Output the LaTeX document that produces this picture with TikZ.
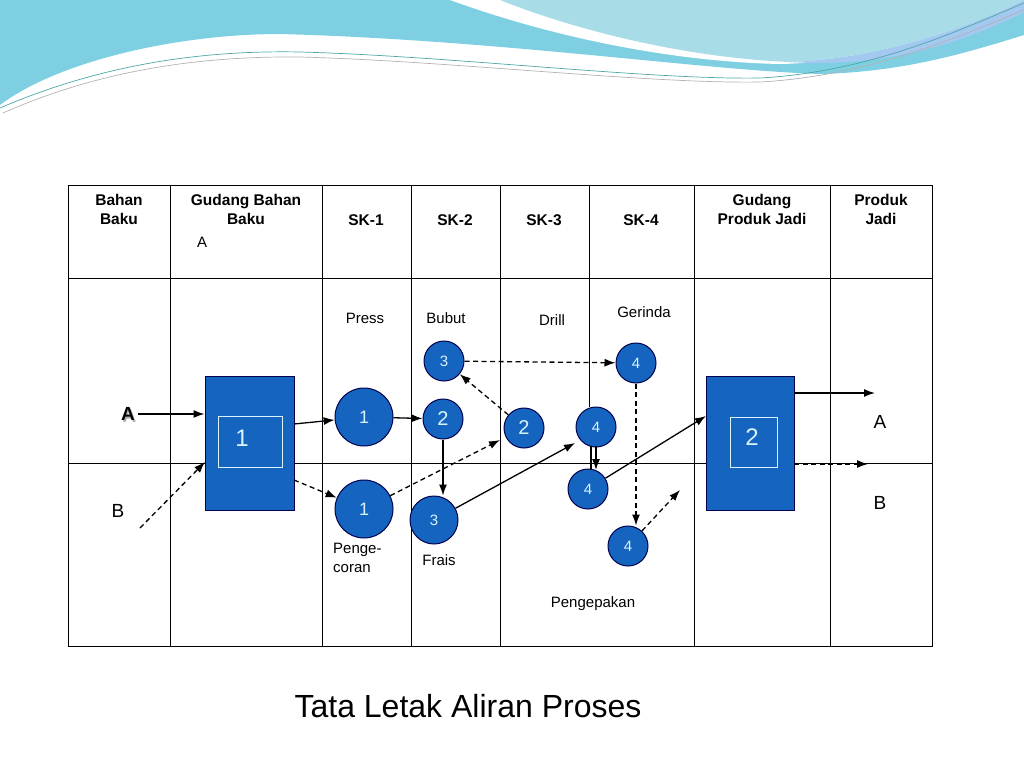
\documentclass[tikz,border=0pt]{standalone}
\usepackage{fontspec}
\setmainfont{Liberation Sans}
\usetikzlibrary{arrows.meta}
\definecolor{cb}{HTML}{1565C0}
\definecolor{wave1}{HTML}{7FCFE2}
\definecolor{wave2}{HTML}{A8DDE8}
\begin{document}
\begin{tikzpicture}[x=1pt,y=-1pt,
 circ/.style={circle,fill=cb,draw=black!70!blue,line width=1pt,text=white!85!cyan,inner sep=0pt,font=\fontsize{15}{15}\selectfont},
 box/.style={fill=cb,draw=black!70!blue,line width=1pt,inner sep=0pt},
 hd/.style={font=\bfseries\fontsize{15.5}{19}\selectfont,align=center,anchor=north},
 lb/.style={font=\fontsize{15}{19}\selectfont},
 ar/.style={-{Latex[length=11pt,width=8pt]},line width=1.3pt},
 da/.style={ar,dash pattern=on 5pt off 3.5pt}]
\useasboundingbox (0,0) rectangle (1024,768);
% background waves
\fill[wave1] (0,0) -- (1024,0) -- (1024,35) .. controls (960,55) and (900,72) .. (820,74) .. controls (700,70) and (500,40) .. (280,34) .. controls (180,34) and (60,60) .. (0,105) -- cycle;
\fill[white] (450,0) .. controls (560,40) and (680,62) .. (780,64) .. controls (880,62) and (980,25) .. (1024,0) -- cycle;
\fill[wave2] (500,0) .. controls (580,32) and (690,58) .. (790,62) .. controls (890,58) and (980,22) .. (1024,0) -- cycle;
\fill[wave1!80!blue!60] (790,62) .. controls (890,58) and (980,22) .. (1024,0) -- (1024,12) .. controls (960,45) and (880,68) .. (790,62) -- cycle;
\draw[teal!70,line width=0.7pt] (0,108) .. controls (100,65) and (200,50) .. (300,52) .. controls (450,56) and (650,80) .. (760,78) .. controls (870,72) and (960,30) .. (1024,3);
\draw[gray!60,line width=0.7pt] (3,113) .. controls (100,70) and (200,56) .. (300,57) .. controls (450,61) and (650,84) .. (760,82) .. controls (870,76) and (960,36) .. (1024,10);
% table
\draw[line width=1pt] (68,185) rectangle (932,646);
\foreach \x in {170,322,411,500,694,830} \draw[line width=1pt] (\x,185) -- (\x,646);
\draw[line width=1pt] (589,185) -- (589,407);
\draw[line width=1pt] (68,278) -- (932,278);
\draw[line width=1pt] (68,463) -- (932,463);
\node[hd] at (119,191) {Bahan\\Baku};
\node[hd] at (246,191) {Gudang Bahan\\Baku};
\node[hd] at (366,211) {SK-1};
\node[hd] at (455,211) {SK-2};
\node[hd] at (544,211) {SK-3};
\node[hd] at (641,211) {SK-4};
\node[hd] at (762,191) {Gudang\\Produk Jadi};
\node[hd] at (881,191) {Produk\\Jadi};
\node[lb] at (202,242) {A};
% labels
\node[lb] at (365,318) {Press};
\node[lb] at (446,318) {Bubut};
\node[lb] at (552,320) {Drill};
\node[lb] at (644,312) {Gerinda};
\node[lb,align=left,anchor=north west,inner sep=0pt] at (333,543) {Penge-\\coran};
\node[lb] at (439,560) {Frais};
\node[lb] at (593,604) {Pengepakan};
\node[font=\bfseries\fontsize{19}{19}\selectfont,text=gray!60] at (129.5,415.5) {A};
\node[font=\bfseries\fontsize{19}{19}\selectfont] (A) at (128,414) {A};
\node[font=\fontsize{19}{19}\selectfont] (B) at (118,511) {B};
\node[font=\fontsize{19}{19}\selectfont] at (880,422) {A};
\node[font=\fontsize{19}{19}\selectfont] at (880,503) {B};
\node[font=\fontsize{32}{32}\selectfont] at (468,706) {Tata Letak Aliran Proses};
% boxes
\node[box,minimum width=89pt,minimum height=134pt] (g1) at (249.5,443) {};
\draw[white!85!cyan,line width=0.9pt] (218,416) rectangle (282,467);
\node[text=white!85!cyan,font=\fontsize{24}{24}\selectfont] at (242,438) {1};
\node[box,minimum width=88pt,minimum height=134pt] (g2) at (750,443) {};
\draw[white!85!cyan,line width=0.9pt] (730,417) rectangle (777,467);
\node[text=white!85!cyan,font=\fontsize{24}{24}\selectfont] at (752,437) {2};
% circles
\node[circ,minimum size=58pt,font=\fontsize{18}{18}\selectfont] (p1) at (364,417) {1};
\node[circ,minimum size=58pt,font=\fontsize{18}{18}\selectfont] (c1) at (364,509) {1};
\node[circ,minimum size=40pt] (b3) at (444,361) {3};
\node[circ,minimum size=40pt,font=\fontsize{20}{20}\selectfont] (b2) at (443,419) {2};
\node[circ,minimum size=48pt] (f3) at (434,520) {3};
\node[circ,minimum size=40pt,font=\fontsize{20}{20}\selectfont] (d2) at (524,428) {2};
\node[circ,minimum size=40pt] (g4a) at (636,363) {4};
\node[circ,minimum size=40pt] (g4b) at (596,427) {4};
\node[circ,minimum size=40pt] (g4c) at (588,489) {4};
\node[circ,minimum size=40pt] (g4d) at (628,546) {4};
\coordinate (ea) at (500,440);
\coordinate (eb) at (575,443);
\coordinate (ec) at (680,490);
\coordinate (bs) at (140,528);
\coordinate (oa) at (875,393);
\coordinate (ob) at (868,464);
% arrows
\draw[ar] (A.east) -- (g1.west |- A.east);
\draw[da] (bs) -- (205,462);
\draw[ar] (294,424) -- (p1);
\draw[da] (294,480) -- (c1);
\draw[ar] (p1) -- (b2);
\draw[ar] (b2) -- (b2 |- f3.north);
\draw[da] (c1) -- (ea);
\draw[da] (d2) -- (b3);
\draw[da] (b3) -- (g4a);
\draw[ar] (f3) -- (eb);
\draw[line width=1.2pt] (591,446) -- (591,470);
\draw[ar] (596,446) -- (596,470);
\draw[ar] (g4c) -- (706,416);
\draw[da] (g4a) -- (g4a |- g4d.north);
\draw[da] (g4d) -- (ec);
\draw[ar] (794,393) -- (oa);
\draw[da] (794,464) -- (ob);
\end{tikzpicture}
\end{document}
